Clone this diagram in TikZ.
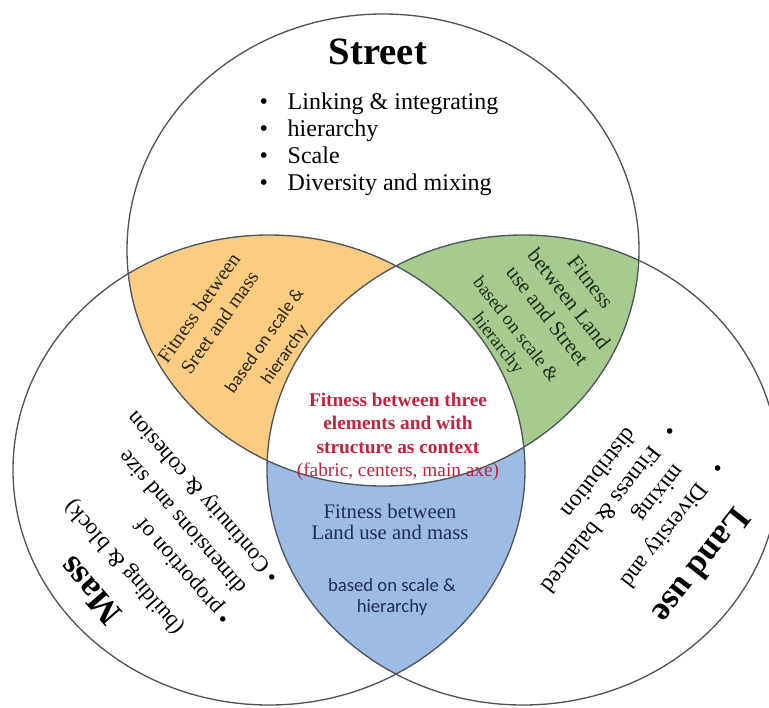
\documentclass[tikz,border=0pt]{standalone}
\usepackage{fontspec}
\setmainfont{Liberation Serif}
\newfontfamily\notefont{Carlito}
\usepackage{tikz}

\definecolor{fitorange}{HTML}{FACD82}
\definecolor{fitgreen}{HTML}{A6CB8E}
\definecolor{fitblue}{HTML}{9DBCE4}
\definecolor{fitred}{HTML}{C0243C}
\definecolor{navy}{HTML}{1F2E55}
\definecolor{rimgray}{HTML}{4F545C}
\definecolor{ink}{HTML}{2A2414}
\definecolor{greenink}{HTML}{1C2E1A}

\newcommand{\dotitem}[1]{\makebox[#1][l]{\textbullet}}

\def\street{(383,250) ellipse [x radius=256, y radius=236]}
\def\mass{(269,470) ellipse [x radius=256, y radius=235]}
\def\landuse{(523,470) ellipse [x radius=256, y radius=235]}

\begin{document}
\begin{tikzpicture}[x=0.75pt, y=-0.75pt,
    rim/.style={draw=rimgray, line width=1pt},
    title/.style={font=\fontsize{26}{28}\selectfont\bfseries},
    body/.style={font=\fontsize{17}{24}\selectfont, align=left}]
\useasboundingbox (0,0) rectangle (769,708);

% lens fills
\begin{scope}
    \clip \street;
    \fill[fitorange] \mass;
\end{scope}
\begin{scope}
    \clip \street;
    \fill[fitgreen] \landuse;
\end{scope}
\begin{scope}
    \clip \mass;
    \fill[fitblue] \landuse;
\end{scope}
\begin{scope}
    \clip \street;
    \clip \mass;
    \fill[white] \landuse;
\end{scope}

\draw[rim] \street;
\draw[rim] \mass;
\draw[rim] \landuse;

% street
\node[title, font=\fontsize{29}{31}\selectfont\bfseries] (streettitle) at (378,52) {Street};
\node[anchor=west, align=left, font=\fontsize{18}{20.3}\selectfont] (streetlist) at (255,144)
    {\dotitem{21pt}Linking \& integrating\\
     \dotitem{21pt}hierarchy\\
     \dotitem{21pt}Scale\\
     \dotitem{21pt}Diversity and mixing};

% middle
\node[align=center, text=fitred, font=\fontsize{14.5}{17.5}\selectfont] (core) at (398,437)
    {\textbf{Fitness between three}\\
     \textbf{elements and with}\\
     \textbf{structure as context}\\
     (fabric, centers, main axe)};

% lenses
\node[rotate=55, align=center, text=ink, font=\fontsize{15}{19}\selectfont] (orangehead) at (209,315)
    {Fitness between\\Sreet and mass};
\node[rotate=55, align=center, text=ink, font=\notefont\fontsize{13.5}{18.5}\selectfont] (orangenote) at (275,348)
    {based on scale \&\\hierarchy};

\node[rotate=-52, align=center, text=greenink, font=\fontsize{16}{20.5}\selectfont] (greenhead) at (569,299)
    {Fitness\\between Land\\use and Street};
\node[rotate=-52, align=center, text=greenink, font=\fontsize{14}{17}\selectfont] (greennote) at (506,337)
    {based on scale \&\\hierarchy};

\node[align=center, text=navy, font=\fontsize{15.5}{16}\selectfont] (bluehead) at (390,522)
    {Fitness between\\Land use and mass};
\node[align=center, text=navy, font=\notefont\fontsize{14}{15.5}\selectfont] (bluenote) at (392,597)
    {based on scale \&\\hierarchy};

% mass
\node[title, rotate=131] (masstitle) at (90,591) {Mass};
\node[rotate=131, font=\fontsize{17}{20}\selectfont] (massnote) at (125,567) {(building \& block)};
\node[body, rotate=131, anchor=west] (masslist) at (255,604)
    {\dotitem{10pt}proportion of\\
     \hspace*{10pt}dimensions and size\\
     \dotitem{10pt}Continuity \& cohesion};

% land use
\node[title, rotate=232] (landtitle) at (702,566) {Land use};
\node[body, rotate=232, anchor=west, font=\fontsize{17.5}{22.5}\selectfont] (landlist) at (688,434)
    {\dotitem{20pt}Diversity and\\
     \hspace*{20pt}mixing\\
     \dotitem{20pt}Fitness \& balanced\\
     \hspace*{20pt}distribution};
\end{tikzpicture}
\end{document}
